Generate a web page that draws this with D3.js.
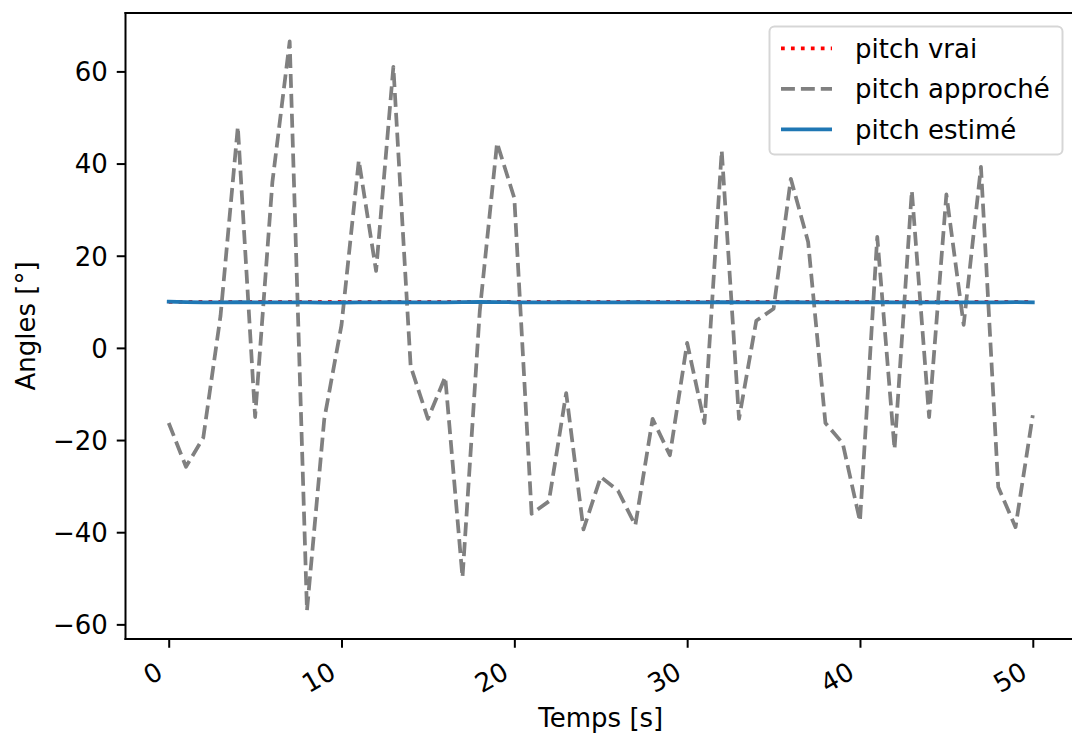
<!DOCTYPE html>
<html>
<head>
<meta charset="utf-8">
<script src="https://cdn.jsdelivr.net/npm/d3@7"></script>
<style>
  html, body { margin: 0; padding: 0; background: #fff; }
  svg { display: block; font-family: "DejaVu Sans", sans-serif; }
</style>
</head>
<body>
<svg id="chart" width="1072" height="735"></svg>
<script>
// ---- data ----
const times = [0,1,2,3,4,5,6,7,8,9,10,11,12,13,14,15,16,17,18,19,20,21,22,23,24,25,26,27,28,29,30,31,32,33,34,35,36,37,38,39,40,41,42,43,44,45,46,47,48,49,50];
const pitchApproche = [-16.3,-25.8,-19.5,7,48,-15,36,66.5,-57,-15.5,5,40.7,16.7,61,-4,-15.4,-6.3,-49.8,8,44.5,32.5,-36,-33.3,-9.8,-39.4,-28,-31,-38.5,-15.4,-23.3,1.1,-16.3,42.8,-15.4,5.9,8.5,36.7,23,-16.3,-20.7,-37.6,24.1,-22,34.1,-15,33.3,5,39.3,-30.2,-38.9,-14.6];
const pitchEstime = [10.05,9.95,9.9,9.9,9.95,9.9,9.88,9.9,9.85,9.8,9.82,9.88,9.9,9.95,9.9,9.88,9.9,9.95,10.0,9.95,9.9,9.88,9.9,9.95,9.9,9.88,9.9,9.95,9.9,9.9,9.88,9.9,9.95,9.9,9.88,9.9,9.95,9.9,9.88,9.9,9.9,9.95,9.9,9.88,9.9,9.88,9.85,9.88,9.9,9.95,9.9];
const vraiTimes = [0, 50];
const pitchVrai = [10, 10];
const xTicks = [0, 10, 20, 30, 40, 50];
const yTicks = [-60, -40, -20, 0, 20, 40, 60];
const legendLabels = ["pitch vrai", "pitch approché", "pitch estimé"];

// ---- layout ----
const FS = 26;
const mLeft = 125.5, mRight = 1076, mTop = 13, mBottom = 639;
const svg = d3.select("#chart");
svg.append("rect").attr("width", 1072).attr("height", 735).attr("fill", "#fff");

const xMin = d3.min(times), xMax = d3.max(times);
const xPad = (xMax - xMin) * 0.05;
const x = d3.scaleLinear().domain([xMin - xPad, xMax + xPad]).range([mLeft, mRight]);
const allY = pitchApproche.concat(pitchEstime, pitchVrai);
const yMin = d3.min(allY), yMax = d3.max(allY);
const yPad = (yMax - yMin) * 0.05;
const y = d3.scaleLinear().domain([yMin - yPad, yMax + yPad]).range([mBottom, mTop]);

svg.append("clipPath").attr("id", "clip").append("rect")
  .attr("x", mLeft).attr("y", mTop).attr("width", mRight - mLeft).attr("height", mBottom - mTop);

const plot = svg.append("g").attr("clip-path", "url(#clip)");
const line = d3.line().x(d => x(d[0])).y(d => y(d[1]));

plot.append("path").datum(vraiTimes.map((t, i) => [t, pitchVrai[i]]))
  .attr("d", line).attr("fill", "none").attr("stroke", "#ff0000")
  .attr("stroke-width", 3.75).attr("stroke-dasharray", "3.75,6.2");

plot.append("path").datum(times.map((t, i) => [t, pitchApproche[i]]))
  .attr("d", line).attr("fill", "none").attr("stroke", "#808080")
  .attr("stroke-width", 3.75).attr("stroke-dasharray", "13.9,6")
  .attr("stroke-linejoin", "round");

plot.append("path").datum(times.map((t, i) => [t, pitchEstime[i]]))
  .attr("d", line).attr("fill", "none").attr("stroke", "#1f77b4")
  .attr("stroke-width", 3.75).attr("stroke-linejoin", "round").attr("stroke-linecap", "square");

// ---- axes ----
const fmt = v => (v < 0 ? "\u2212" + Math.abs(v) : String(v));

const xAxis = d3.axisBottom(x).tickValues(xTicks).tickSize(8.75).tickPadding(0).tickFormat(fmt);
const gx = svg.append("g").attr("transform", `translate(0,${mBottom})`).call(xAxis);
gx.select(".domain").remove();
gx.selectAll(".tick line").attr("stroke", "#000").attr("stroke-width", 2);
gx.selectAll(".tick text")
  .attr("fill", "#000").attr("font-size", FS).attr("font-family", "DejaVu Sans")
  .attr("text-anchor", "end").attr("dy", null).attr("y", null)
  .attr("transform", "translate(-4.5,38) rotate(-30)");

const yAxis = d3.axisLeft(y).tickValues(yTicks).tickSize(8.75).tickPadding(9).tickFormat(fmt);
const gy = svg.append("g").attr("transform", `translate(${mLeft},0)`).call(yAxis);
gy.select(".domain").remove();
gy.selectAll(".tick line").attr("stroke", "#000").attr("stroke-width", 2);
gy.selectAll(".tick text")
  .attr("fill", "#000").attr("font-size", FS).attr("font-family", "DejaVu Sans")
  .attr("dy", "0.36em");

// spines
svg.append("line").attr("x1", mLeft).attr("x2", mLeft).attr("y1", mTop - 1).attr("y2", mBottom + 1)
  .attr("stroke", "#000").attr("stroke-width", 2);
svg.append("line").attr("x1", mLeft - 1).attr("x2", mRight + 1).attr("y1", mBottom).attr("y2", mBottom)
  .attr("stroke", "#000").attr("stroke-width", 2);
svg.append("line").attr("x1", mLeft - 1).attr("x2", mRight + 1).attr("y1", mTop).attr("y2", mTop)
  .attr("stroke", "#000").attr("stroke-width", 2);
svg.append("line").attr("x1", mRight).attr("x2", mRight).attr("y1", mTop - 1).attr("y2", mBottom + 1)
  .attr("stroke", "#000").attr("stroke-width", 2);

// axis labels
svg.append("text").attr("x", (mLeft + mRight) / 2).attr("y", 727)
  .attr("text-anchor", "middle").attr("font-size", FS).attr("fill", "#000").text("Temps [s]");
svg.append("text").attr("transform", `translate(35,${(mTop + mBottom) / 2}) rotate(-90)`)
  .attr("text-anchor", "middle").attr("font-size", FS).attr("fill", "#000").text("Angles [°]");

// ---- legend ----
const lg = svg.append("g");
lg.append("rect").attr("x", 769.5).attr("y", 26.5).attr("width", 293).attr("height", 128)
  .attr("rx", 5).attr("ry", 5)
  .attr("fill", "rgba(255,255,255,0.8)").attr("stroke", "rgba(204,204,204,0.8)").attr("stroke-width", 2);
const styles = [
  { stroke: "#ff0000", dash: "3.75,6.2" },
  { stroke: "#808080", dash: "13.9,6" },
  { stroke: "#1f77b4", dash: null }
];
const rowY = [48.3, 88.8, 129.3];
legendLabels.forEach((lab, i) => {
  const l = lg.append("line").attr("x1", 781).attr("x2", 832).attr("y1", rowY[i]).attr("y2", rowY[i])
    .attr("stroke", styles[i].stroke).attr("stroke-width", 3.75);
  if (styles[i].dash) l.attr("stroke-dasharray", styles[i].dash);
  lg.append("text").attr("x", 855).attr("y", rowY[i]).attr("dy", "0.36em")
    .attr("font-size", FS).attr("fill", "#000").text(lab);
});
</script>
</body>
</html>
